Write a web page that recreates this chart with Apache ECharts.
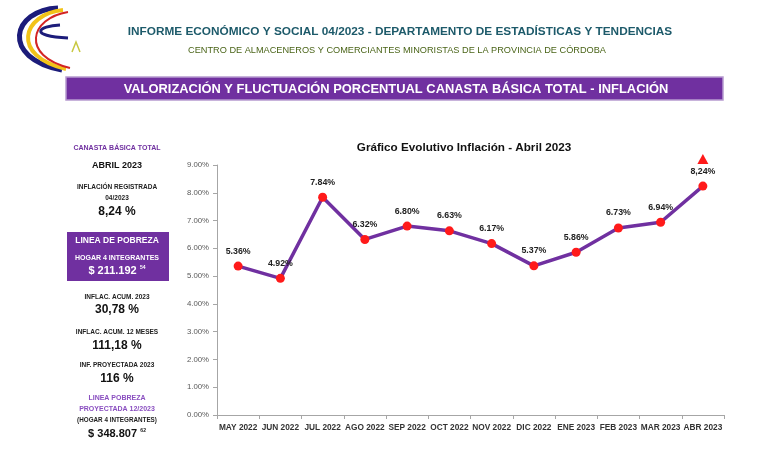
<!DOCTYPE html>
<html><head><meta charset="utf-8">
<script src="https://cdn.jsdelivr.net/npm/echarts@6/dist/echarts.min.js"></script>
<style>html,body{margin:0;padding:0;background:#fff}#c{width:767px;height:465px}</style>
</head><body><div id="c"></div>
<script>
var categories = ['MAY 2022','JUN 2022','JUL 2022','AGO 2022','SEP 2022','OCT 2022','NOV 2022','DIC 2022','ENE 2023','FEB 2023','MAR 2023','ABR 2023'];
var inflation = [5.36, 4.92, 7.84, 6.32, 6.80, 6.63, 6.17, 5.37, 5.86, 6.73, 6.94, 8.24];
var pointLabels = ['5.36%','4.92%','7.84%','6.32%','6.80%','6.63%','6.17%','5.37%','5.86%','6.73%','6.94%','8,24%'];
var yTicks = [0,1,2,3,4,5,6,7,8,9];

var chart = echarts.init(document.getElementById('c'), null, {renderer:'canvas'});
var F = 'Liberation Sans, Arial, sans-serif';
var purple = '#7030a0';
var cx = 117;
function t(x, y, text, size, color, weight, extra){
  var s = {text:text, x:x, y:y, fill:color||'#222', font:(weight||'bold')+' '+size+'px '+F, textAlign:'center', textVerticalAlign:'middle'};
  if (extra) for (var k in extra) s[k]=extra[k];
  return {type:'text', style:s, z:10};
}
var graphics = [
  // logo
  {type:'bezierCurve', shape:{x1:58,y1:8,cpx1:12,cpy1:10,cpx2:0,cpy2:58,x2:62,y2:70}, style:{stroke:'#1c1c7a',lineWidth:5,fill:null}},
  {type:'bezierCurve', shape:{x1:63,y1:10,cpx1:22,cpy1:14,cpx2:10,cpy2:56,x2:66,y2:69}, style:{stroke:'#f2c318',lineWidth:4,fill:null}},
  {type:'bezierCurve', shape:{x1:68,y1:12,cpx1:30,cpy1:18,cpx2:20,cpy2:56,x2:70,y2:68}, style:{stroke:'#d32424',lineWidth:2,fill:null}},
  {type:'bezierCurve', shape:{x1:60,y1:25,cpx1:38,cpy1:26,cpx2:28,cpy2:36,x2:68,y2:38}, style:{stroke:'#1c1c7a',lineWidth:3,fill:null}},
  {type:'polyline', shape:{points:[[72,52],[76,42],[80,52]]}, style:{stroke:'#c8c840',lineWidth:1.5,fill:null}},
  // headers
  t(400, 32, 'INFORME ECONÓMICO Y SOCIAL 04/2023 - DEPARTAMENTO DE ESTADÍSTICAS Y TENDENCIAS', 11.8, '#1d5a6a', 'bold'),
  t(397, 50, 'CENTRO DE ALMACENEROS Y COMERCIANTES MINORISTAS DE LA PROVINCIA DE CÓRDOBA', 9.2, '#4a6418', 'normal'),
  {type:'rect', shape:{x:66,y:77,width:657,height:23}, style:{fill:purple, stroke:'#b79ad0', lineWidth:1.5}},
  t(396, 89, 'VALORIZACIÓN Y FLUCTUACIÓN PORCENTUAL CANASTA BÁSICA TOTAL - INFLACIÓN', 12.9, '#ffffff', '900'),
  // left panel
  t(cx, 148, 'CANASTA BÁSICA TOTAL', 7, purple),
  t(cx, 166, 'ABRIL 2023', 9, '#111'),
  t(cx, 187, 'INFLACIÓN REGISTRADA', 6.5, '#222'),
  t(cx, 198, '04/2023', 6.5, '#222'),
  t(cx, 212, '8,24 %', 12, '#111'),
  {type:'rect', shape:{x:67,y:232,width:102,height:49}, style:{fill:purple}},
  t(cx, 241, 'LINEA DE POBREZA', 8.5, '#ffffff'),
  t(cx, 258, 'HOGAR 4 INTEGRANTES', 7, '#ffffff'),
  {type:'text', z:10, style:{x:cx, y:271, textAlign:'center', textVerticalAlign:'middle', text:'{a|$ 211.192} {b|54}', rich:{a:{font:'bold 11px '+F, fill:'#fff'}, b:{font:'bold 5px '+F, fill:'#fff', verticalAlign:'top', padding:[0,0,6,0]}}}},
  t(cx, 297, 'INFLAC. ACUM. 2023', 6.5, '#222'),
  t(cx, 310, '30,78 %', 12, '#111'),
  t(cx, 332, 'INFLAC. ACUM. 12 MESES', 6.5, '#222'),
  t(cx, 346, '111,18 %', 12, '#111'),
  t(cx, 365, 'INF. PROYECTADA 2023', 6.5, '#222'),
  t(cx, 379, '116 %', 12, '#111'),
  t(cx, 398, 'LINEA POBREZA', 7, '#8a4fc0'),
  t(cx, 409, 'PROYECTADA 12/2023', 7, '#8a4fc0'),
  t(cx, 420, '(HOGAR 4 INTEGRANTES)', 6.3, '#222'),
  {type:'text', z:10, style:{x:cx, y:434, textAlign:'center', textVerticalAlign:'middle', text:'{a|$ 348.807} {b|62}', rich:{a:{font:'bold 11px '+F, fill:'#111'}, b:{font:'bold 5px '+F, fill:'#111', padding:[0,0,6,0]}}}}
];

chart.setOption({
  animation:false,
  title:{text:'Gráfico Evolutivo Inflación - Abril 2023', left:459, top:137, textAlign:'center',
    textStyle:{fontFamily:F, fontSize:11.7, fontWeight:'bold', color:'#111'}},
  grid:{left:217, right:43, top:165, bottom:50},
  xAxis:{type:'category', data:categories, boundaryGap:true,
    axisLine:{lineStyle:{color:'#a6a6a6'}}, axisTick:{show:true, length:4, lineStyle:{color:'#a6a6a6'}},
    axisLabel:{interval:0, fontFamily:F, fontSize:8.3, fontWeight:'bold', color:'#333', margin:9}},
  yAxis:{type:'value', min:0, max:9, interval:1,
    axisLine:{show:true, lineStyle:{color:'#a6a6a6'}}, axisTick:{show:true, length:4, lineStyle:{color:'#a6a6a6'}},
    splitLine:{show:false},
    axisLabel:{formatter:function(v){return v.toFixed(2)+'%';}, fontFamily:F, fontSize:7.8, color:'#595959', margin:8}},
  series:[{type:'line', data:inflation, symbol:'circle', symbolSize:9,
    lineStyle:{color:purple, width:3.5}, itemStyle:{color:'#ff1a1a'},
    label:{show:true, position:'top', distance:6, fontFamily:F, fontSize:8.8, fontWeight:'bold', color:'#222',
      formatter:function(p){return pointLabels[p.dataIndex];}},
    markPoint:{symbol:'triangle', symbolSize:[11,10], symbolOffset:[0,-27], itemStyle:{color:'#ff1a1a'}, label:{show:false},
      data:[{coord:[categories.length-1, inflation[inflation.length-1]]}]}
  }],
  graphic:graphics
});
</script></body></html>
